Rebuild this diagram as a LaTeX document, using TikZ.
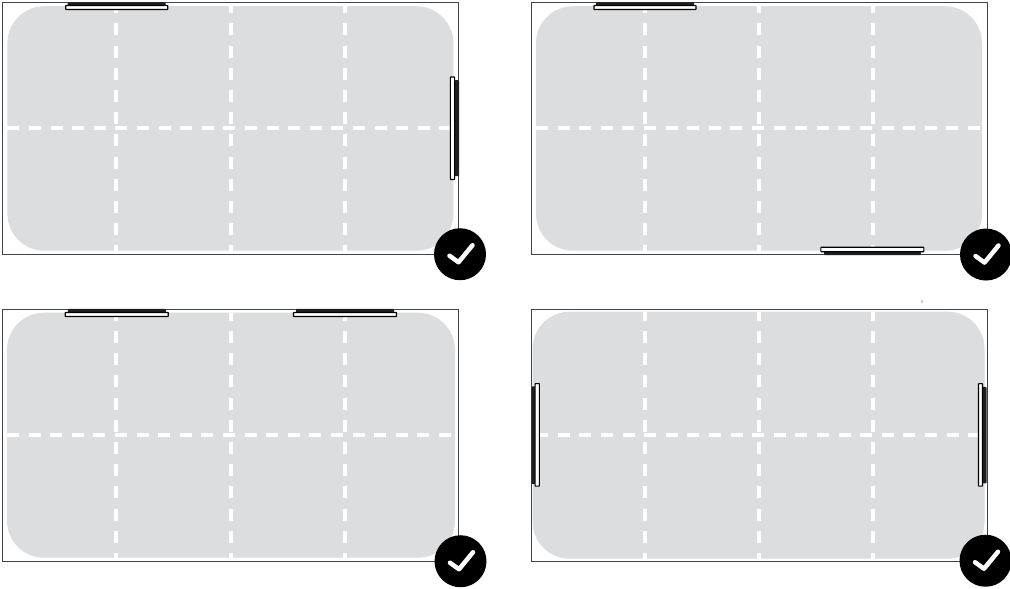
\documentclass[tikz,border=0pt]{standalone}
\usepackage{tikz}
\usetikzlibrary{calc}
\definecolor{zone}{HTML}{DCDDDF}
\definecolor{edge}{HTML}{444444}

\begin{document}
\begin{tikzpicture}[
    frame/.style={draw=edge, line width=0.02cm, fill=white, inner sep=0pt, outer sep=0pt,
                  minimum width=9.12cm, minimum height=5.05cm},
    zone/.style={fill=zone, rounded corners=0.74cm, inner sep=0pt, outer sep=0pt},
    gridv/.style={draw=white, line width=0.075cm, dash pattern=on 0.24cm off 0.204cm},
    gridh/.style={draw=white, line width=0.08cm, dash pattern=on 0.24cm off 0.192cm},
    glass/.style={draw=black, line width=0.024cm, fill=white, rounded corners=0.3pt,
                  inner sep=0pt, outer sep=0pt},
    body/.style={fill=black!88, rounded corners=0.5pt, inner sep=0pt, outer sep=0pt},
    badge/.style={circle, fill=black, inner sep=0pt, minimum size=1.04cm},
    tick/.style={draw=white, line width=0.09cm, line cap=round, line join=round}
  ]
  \useasboundingbox (0, 0.015) rectangle (20.2, 11.795);

  % the four plans
  \node[frame] (f1) at (4.606, 9.228) {};
  \node[frame] (f2) at (15.187, 9.228) {};
  \node[frame] (f3) at (4.61, 3.087) {};
  \node[frame] (f4) at (15.18, 3.087) {};

  \node[zone, minimum width=8.92cm, minimum height=4.89cm] (a1) at (4.608, 9.225) {};
  \node[zone, minimum width=8.92cm, minimum height=4.89cm] (a2) at (15.18, 9.225) {};
  \node[zone, minimum width=8.96cm, minimum height=4.90cm] (a3) at (4.62, 3.09) {};
  \node[zone, minimum width=9.04cm, minimum height=4.94cm] (a4) at (15.172, 3.09) {};

  % dashed grid
  \foreach \x in {2.325, 4.615, 6.90} {
    \draw[gridv, dash phase=0.1cm] (\x, 0 |- a1.north) -- (\x, 0 |- a1.south);
    \draw[gridv, dash phase=0.08cm] (\x, 0 |- a3.north) -- (\x, 0 |- a3.south);
  }
  \foreach \x in {12.90, 15.18, 17.46} {
    \draw[gridv, dash phase=0.1cm] (\x, 0 |- a2.north) -- (\x, 0 |- a2.south);
    \draw[gridv, dash phase=0.06cm] (\x, 0 |- a4.north) -- (\x, 0 |- a4.south);
  }
  \draw[gridh] (a1.west) -- (a1.east);
  \draw[gridh] (a2.west) -- (a2.east);
  \draw[gridh] (a3.west) -- (a3.east);
  \draw[gridh] ([xshift=0.07cm]a4.west) -- ([xshift=-0.1cm]a4.east);

  % top and bottom units
  \node[body, minimum width=1.96cm, minimum height=0.084cm] (b1) at (2.334, 11.707) {};
  \node[glass, minimum width=2.04cm, minimum height=0.08cm] (g1) at (2.334, 11.645) {};

  \node[body, minimum width=1.96cm, minimum height=0.084cm] (b2) at (12.90, 11.707) {};
  \node[glass, minimum width=2.04cm, minimum height=0.08cm] (g2) at (12.90, 11.645) {};

  \node[body, minimum width=1.94cm, minimum height=0.07cm] (b3) at (17.447, 6.728) {};
  \node[glass, minimum width=2.06cm, minimum height=0.09cm] (g3) at (17.447, 6.805) {};

  \node[body, minimum width=1.96cm, minimum height=0.08cm] (b4) at (2.336, 5.578) {};
  \node[glass, minimum width=2.06cm, minimum height=0.08cm] (g4) at (2.336, 5.505) {};

  \node[body, minimum width=1.96cm, minimum height=0.08cm] (b5) at (6.90, 5.578) {};
  \node[glass, minimum width=2.06cm, minimum height=0.08cm] (g5) at (6.90, 5.505) {};

  % side units
  \node[body, minimum width=0.09cm, minimum height=1.92cm] (b6) at (9.135, 9.23) {};
  \node[glass, minimum width=0.085cm, minimum height=2.05cm] (g6) at (9.05, 9.23) {};

  \node[body, minimum width=0.09cm, minimum height=1.95cm] (b7) at (10.675, 3.09) {};
  \node[glass, minimum width=0.085cm, minimum height=2.05cm] (g7) at (10.745, 3.097) {};

  \node[body, minimum width=0.09cm, minimum height=1.93cm] (b8) at (19.685, 3.09) {};
  \node[glass, minimum width=0.08cm, minimum height=2.05cm] (g8) at (19.61, 3.097) {};

  % speck above the last plan
  \node[fill=black!20, inner sep=0pt, minimum size=0.05cm] (speck) at (18.44, 5.76) {};

  % badges
  \node[badge] (c1) at (9.20, 6.71) {};
  \node[badge] (c2) at (19.72, 6.704) {};
  \node[badge] (c3) at (9.21, 0.57) {};
  \node[badge] (c4) at (19.71, 0.58) {};
  \foreach \c in {c1, c2, c3, c4} {
    \draw[tick] ([shift={(-0.21, -0.03)}]\c.center) -- ([shift={(-0.03, -0.16)}]\c.center)
      -- ([shift={(0.25, 0.18)}]\c.center);
  }
\end{tikzpicture}
\end{document}
